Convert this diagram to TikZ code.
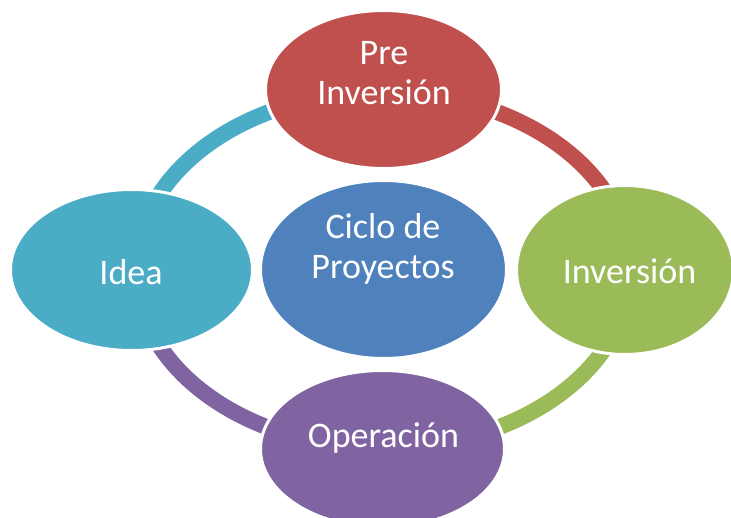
\documentclass[tikz,border=0pt]{standalone}
\usepackage{fontspec}
\setmainfont{Carlito}
\usetikzlibrary{shapes.geometric}
\definecolor{cred}{HTML}{C0504D}
\definecolor{cteal}{HTML}{4BACC6}
\definecolor{cblue}{HTML}{4F81BD}
\definecolor{cgreen}{HTML}{9BBB59}
\definecolor{cpurple}{HTML}{8064A2}
\begin{document}
\begin{tikzpicture}[x=1pt,y=-1pt,
  bub/.style={ellipse, draw=white, line width=3pt, inner sep=0pt},
  lbl/.style={text=white, font=\fontsize{36}{40}\selectfont, align=center, anchor=base, inner sep=0pt},
  ringline/.style={line width=16pt}]
\useasboundingbox (0,0) rectangle (731,518);
\coordinate (c) at (383,270);
% ring segments
\begin{scope}\clip (0,0) rectangle (383,270);
  \draw[ringline, cteal] (c) ellipse [x radius=247pt, y radius=178pt];
\end{scope}
\begin{scope}\clip (383,0) rectangle (731,270);
  \draw[ringline, cred] (c) ellipse [x radius=247pt, y radius=178pt];
\end{scope}
\begin{scope}\clip (383,270) rectangle (731,518);
  \draw[ringline, cgreen] (c) ellipse [x radius=247pt, y radius=178pt];
\end{scope}
\begin{scope}\clip (0,270) rectangle (383,518);
  \draw[ringline, cpurple] (c) ellipse [x radius=247pt, y radius=178pt];
\end{scope}
% bubbles
\node[bub, fill=cred, minimum width=236pt, minimum height=158pt] (pre) at (383.5,89.5) {};
\node[bub, fill=cblue, minimum width=246pt, minimum height=178pt] (ciclo) at (383.5,269.5) {};
\node[bub, fill=cteal, minimum width=242pt, minimum height=161pt] (idea) at (131.5,270) {};
\node[bub, fill=cgreen, minimum width=217pt, minimum height=169pt] (inv) at (625,270) {};
\node[bub, fill=cpurple, minimum width=244pt, minimum height=157pt] (oper) at (382.5,449) {};
% labels
\node[lbl] (tpre) at (384,105) {Pre\\Inversión};
\node[lbl] (tciclo) at (383,279) {Ciclo de\\Proyectos};
\node[lbl] (tidea) at (131,285) {Idea};
\node[lbl] (tinv) at (629.5,284) {Inversión};
\node[lbl] (toper) at (383.5,447) {Operación};
\end{tikzpicture}
\end{document}
